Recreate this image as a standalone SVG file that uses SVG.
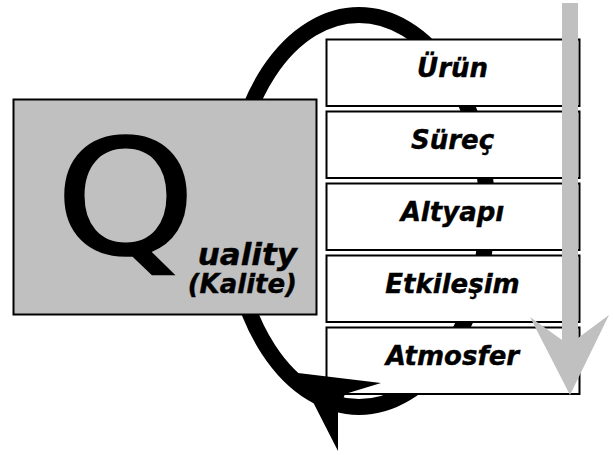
<svg xmlns="http://www.w3.org/2000/svg" width="614" height="455" viewBox="0 0 614 455">
<style>
.lbl{font-family:"DejaVu Sans",Verdana,sans-serif;font-weight:bold;font-style:italic;font-size:26px;fill:#000;stroke:#000;stroke-width:0.4;text-anchor:middle}
.sub{font-family:"DejaVu Sans",Verdana,sans-serif;font-weight:bold;font-style:italic;fill:#000;stroke:#000;stroke-width:0.4;text-anchor:end}
.box{fill:#fff;stroke:#000;stroke-width:2}
.gray{fill:#c0c0c0}
</style>
<rect width="614" height="455" fill="#fff"/>
<g id="connectors">
<ellipse cx="359" cy="211" rx="128" ry="196" fill="none" stroke="#000" stroke-width="16"/>
</g>
<g id="quality">
<rect x="13.5" y="99.5" width="303" height="215" class="gray" stroke="#000" stroke-width="2"/>
<text transform="translate(55,254) scale(1.12,1)" font-family="DejaVu Sans,Verdana,sans-serif" font-size="160" fill="#000" stroke="#000" stroke-width="1.5">Q</text>
<text x="297" y="265" class="sub" font-size="31">uality</text>
<text x="297" y="293" class="sub" font-size="26">(Kalite)</text>
</g>
<g id="urun"><rect x="326.5" y="39.5" width="253" height="66.5" class="box"/><text x="452.5" y="77" class="lbl">Ürün</text></g>
<g id="surec"><rect x="326.5" y="111.5" width="253" height="66.5" class="box"/><text x="452.5" y="149" class="lbl">Süreç</text></g>
<g id="altyapi"><rect x="326.5" y="183.5" width="253" height="66.5" class="box"/><text x="452.5" y="221" class="lbl">Altyapı</text></g>
<g id="etkilesim"><rect x="326.5" y="255.5" width="253" height="66.5" class="box"/><text x="452.5" y="293" class="lbl">Etkileşim</text></g>
<g id="atmosfer"><rect x="326.5" y="327.5" width="253" height="66.5" class="box"/><text x="452.5" y="365" class="lbl">Atmosfer</text></g>
<g id="flow-arrow">
<polygon class="gray" points="562,3 578,3 578,338 609,315 570,395 530,317 562,340"/>
</g>
<g id="connector-head">
<polygon fill="#000" points="298,373 381,383 345,394 338,412 338,451 313,402"/>
</g>
</svg>
